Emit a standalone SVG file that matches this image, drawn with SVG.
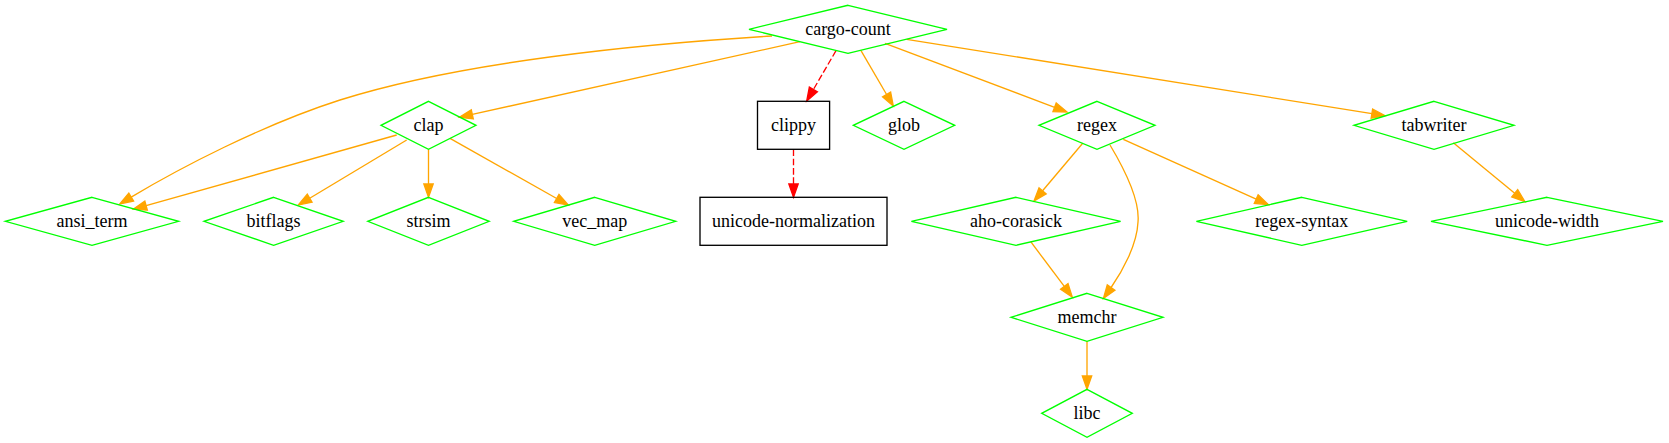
<svg xmlns="http://www.w3.org/2000/svg" width="1669" height="443" viewBox="0 0 1669 443" font-family="Liberation Serif, Times New Roman, DejaVu Serif, serif">
<style>
.n polygon{fill:none;stroke:#00ff00;stroke-width:1.33}
.b rect{fill:none;stroke:#000;stroke-width:1.33}
text{font-family:'Liberation Serif','Times New Roman','DejaVu Serif',serif;font-size:18px;fill:#000;text-anchor:middle}
.e{fill:none;stroke:#ffa500;stroke-width:1.33}
.d{fill:none;stroke:#ff0000;stroke-width:1.33;stroke-dasharray:6.67,2.67}
</style>
<defs>
<marker id="ao" markerUnits="userSpaceOnUse" markerWidth="16" markerHeight="12" viewBox="-1 -6 16 12" refX="0" refY="0" orient="auto" overflow="visible"><path d="M0,-4.67L13.3,0L0,4.67z" fill="#ffa500" stroke="#ffa500" stroke-width="1.33"/></marker>
<marker id="ar" markerUnits="userSpaceOnUse" markerWidth="16" markerHeight="12" viewBox="-1 -6 16 12" refX="0" refY="0" orient="auto" overflow="visible"><path d="M0,-4.67L13.3,0L0,4.67z" fill="#ff0000" stroke="#ff0000" stroke-width="1.33"/></marker>
</defs>
<rect width="1669" height="443" fill="#fff"/>
<g id="edges">
<path class="e" marker-end="url(#ao)" d="M772,36C640,44 460,62 340,100C262,125 180,168 131.2,197.1"/>
<path class="e" marker-end="url(#ao)" d="M396.7,135L146.1,205.7"/>
<path class="e" marker-end="url(#ao)" d="M800,41.7L472.3,114.4"/>
<path class="e" marker-end="url(#ao)" d="M406.7,140L309.7,198.2"/>
<path class="e" marker-end="url(#ao)" d="M428.5,149.3L428.5,184"/>
<path class="e" marker-end="url(#ao)" d="M450,138.3L556.7,198.5"/>
<path class="d" marker-end="url(#ar)" d="M836,50.7L813.4,89.5"/>
<path class="e" marker-end="url(#ao)" d="M861,50.7L886.6,94.5"/>
<path class="e" marker-end="url(#ao)" d="M885,43.3L1054.6,107.3"/>
<path class="e" marker-end="url(#ao)" d="M906.7,39.3L1371.9,113.6"/>
<path class="d" marker-end="url(#ar)" d="M793.5,149.3L793.5,184"/>
<path class="e" marker-end="url(#ao)" d="M1082.7,143.3L1042.6,190.8"/>
<path class="e" marker-end="url(#ao)" d="M1110,145C1125,170 1140,200 1138,222C1137,245 1122,272 1111.1,287.5"/>
<path class="e" marker-end="url(#ao)" d="M1030.7,241.7L1064.3,286.4"/>
<path class="e" marker-end="url(#ao)" d="M1123.3,139.3L1256.2,199.1"/>
<path class="e" marker-end="url(#ao)" d="M1453.3,142.7L1514.7,193.3"/>
<path class="e" marker-end="url(#ao)" d="M1087,341.3L1087,376"/>
</g>
<g id="cargo-count" class="n"><polygon points="848,5.3 947,29.3 848,53.3 749,29.3"/><text x="848" y="35.3">cargo-count</text></g>
<g id="clap" class="n"><polygon points="428.5,101.3 476,125.3 428.5,149.3 381,125.3"/><text x="428.5" y="131.3">clap</text></g>
<g id="clippy" class="b"><rect x="757.5" y="101.3" width="72.1" height="48"/><text x="793.5" y="131.3">clippy</text></g>
<g id="glob" class="n"><polygon points="904,101.3 954.7,125.3 904,149.3 853.3,125.3"/><text x="904" y="131.3">glob</text></g>
<g id="regex" class="n"><polygon points="1097,101.3 1155,125.3 1097,149.3 1039,125.3"/><text x="1097" y="131.3">regex</text></g>
<g id="tabwriter" class="n"><polygon points="1434,101.3 1514,125.3 1434,149.3 1354,125.3"/><text x="1434" y="131.3">tabwriter</text></g>
<g id="ansi_term" class="n"><polygon points="92,197.3 178.6,221.3 92,245.3 5.4,221.3"/><text x="92" y="227.3">ansi_term</text></g>
<g id="bitflags" class="n"><polygon points="273.6,197.3 343.2,221.3 273.6,245.3 204,221.3"/><text x="273.6" y="227.3">bitflags</text></g>
<g id="strsim" class="n"><polygon points="428.5,197.3 489.2,221.3 428.5,245.3 367.8,221.3"/><text x="428.5" y="227.3">strsim</text></g>
<g id="vec_map" class="n"><polygon points="594.7,197.3 675.7,221.3 594.7,245.3 513.7,221.3"/><text x="594.7" y="227.3">vec_map</text></g>
<g id="unicode-normalization" class="b"><rect x="700" y="197.3" width="187" height="48"/><text x="793.5" y="227.3">unicode-normalization</text></g>
<g id="aho-corasick" class="n"><polygon points="1016,197.3 1120.6,221.3 1016,245.3 911.4,221.3"/><text x="1016" y="227.3">aho-corasick</text></g>
<g id="regex-syntax" class="n"><polygon points="1301.8,197.3 1407.2,221.3 1301.8,245.3 1196.4,221.3"/><text x="1301.8" y="227.3">regex-syntax</text></g>
<g id="unicode-width" class="n"><polygon points="1547,197.3 1663,221.3 1547,245.3 1431,221.3"/><text x="1547" y="227.3">unicode-width</text></g>
<g id="memchr" class="n"><polygon points="1087,293.3 1163,317.3 1087,341.3 1011,317.3"/><text x="1087" y="323.3">memchr</text></g>
<g id="libc" class="n"><polygon points="1087,389.3 1132.3,413.3 1087,437.3 1041.7,413.3"/><text x="1087" y="419.3">libc</text></g>
</svg>
